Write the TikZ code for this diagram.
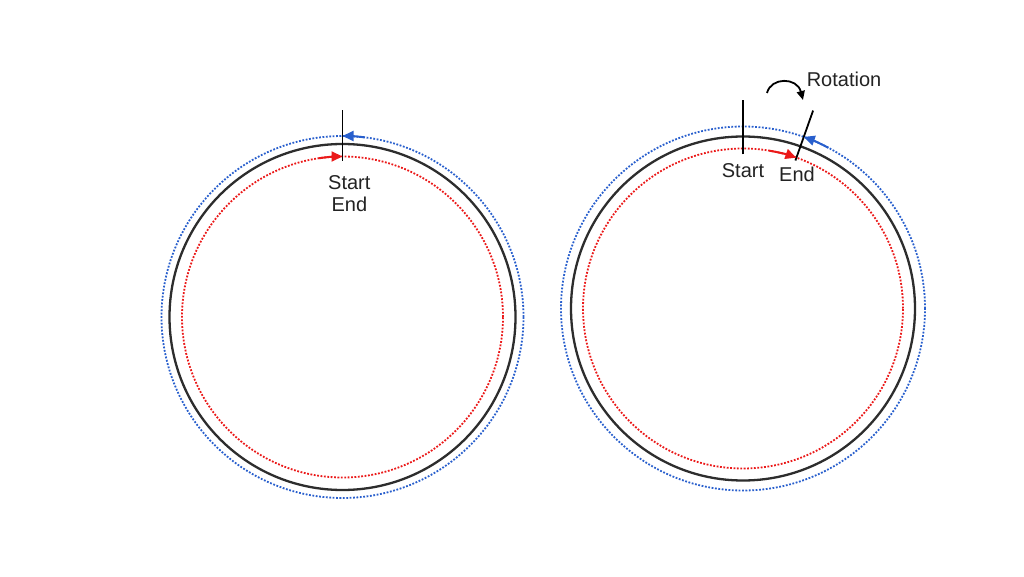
\documentclass[tikz,border=0pt]{standalone}
\usepackage{fontspec}
\setmainfont{Liberation Sans}
\usetikzlibrary{arrows.meta,calc}
\definecolor{cblue}{RGB}{40,95,205}
\definecolor{cred}{RGB}{235,25,25}
\definecolor{cring}{RGB}{45,45,45}
\definecolor{ctext}{RGB}{35,35,35}
\begin{document}
\begin{tikzpicture}[x=1pt,y=1pt,
 ring/.style={draw=cring,line width=2.3pt},
 outerpath/.style={draw=cblue,line width=1.8pt,dash pattern=on 1.8pt off 1.6pt},
 innerpath/.style={draw=cred,line width=1.8pt,dash pattern=on 1.8pt off 1.6pt},
 marker/.style={draw=black,line width=1.8pt},
 arr/.style={line width=2pt,-{Triangle[length=11pt,width=10pt]}},
 lbl/.style={font=\fontsize{20}{23}\selectfont,text=ctext,inner sep=0pt,anchor=base}
]
\useasboundingbox (0,0) rectangle (1024,576);
\fill[white] (0,0) rectangle (1024,576);
\coordinate (L) at (342.5,259);
\coordinate (R) at (743,267.5);
% ---- left ring
\draw[outerpath] (L) circle (181);
\draw[ring] (L) circle (173);
\draw[innerpath] (L) circle (160.5);
\coordinate (Lt1) at ($(L)+(90:156)$);
\coordinate (Lt2) at ($(L)+(90:207)$);
\draw[marker] (Lt1) -- (Lt2);
\draw[arr,cblue] ($(L)+(83:181)$) arc (83:90:181);
\draw[arr,cred] ($(L)+(98.5:160.5)$) arc (98.5:90:160.5);
\node[lbl] (lstart) at (349.3,386) {Start};
\node[lbl] (lend) at (349.4,364) {End};
% ---- right ring
\draw[outerpath] (R) circle (182);
\draw[ring] (R) circle (172);
\draw[innerpath] (R) circle (160);
\coordinate (Rs1) at ($(R)+(90:154)$);
\coordinate (Rs2) at ($(R)+(90:208)$);
\draw[marker] (Rs1) -- (Rs2);
\coordinate (Re1) at ($(R)+(70.5:157)$);
\coordinate (Re2) at ($(R)+(70.5:210)$);
\draw[marker] (Re1) -- (Re2);
\draw[arr,cred] ($(R)+(80.5:160)$) arc (80.5:70.5:160);
\draw[arr,cblue] ($(R)+(62:182)$) arc (62:70.5:182);
\node[lbl] (rstart) at (743,398) {Start};
\node[lbl] (rend) at (797,394) {End};
\node[lbl] (rot) at (844,489) {Rotation};
\coordinate (c1) at (767,483);
\coordinate (c2) at (803,476);
\draw[line width=1.8pt,-{Triangle[length=9pt,width=8pt]}] (c1) .. controls (771,499) and (797,499) .. (c2);
\end{tikzpicture}
\end{document}
